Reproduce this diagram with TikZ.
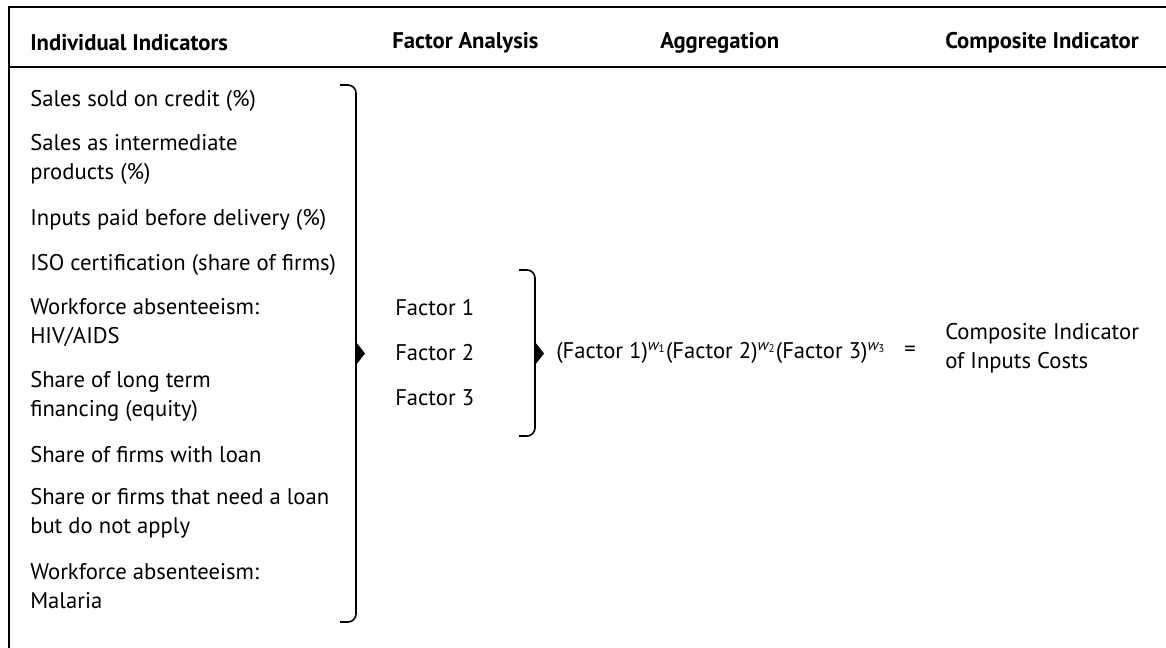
\documentclass[tikz,border=0pt]{standalone}
\usepackage{fontspec}
\setmainfont{PT Sans}
\usetikzlibrary{positioning}
\tikzset{frame/.style={draw, line width=1.1pt}}
\tikzset{header/.style={font=\fontsize{17}{20}\selectfont\bfseries, anchor=west, inner sep=0pt}}
\tikzset{indicator/.style={font=\fontsize{17}{21.75}\selectfont, align=left, anchor=west, inner sep=0pt}}
\tikzset{bracket/.style={draw, line width=1.2pt, rounded corners=6pt}}
\tikzset{tip/.style={fill=black}}
\newcommand{\wexp}[1]{\textsuperscript{\itshape w\textsubscript{\upshape #1}}}

\begin{document}
\begin{tikzpicture}[x=0.75pt, y=-0.75pt]
    \useasboundingbox (0,0) rectangle (1166,648);
    % frame
    \draw [frame] (1166,7) -- (9,7) -- (9,648);
    \draw [frame, line width=1.7pt] (9,67) -- (1166,67);

    % headers
    \node [header] (hind) at (30,43) {Individual Indicators};
    \node [header] (hfac) at (392,43) {Factor Analysis};
    \node [header] (hagg) at (660,43) {Aggregation};
    \node [header] (hcomp) at (945,43) {Composite Indicator};

    % individual indicators
    \node [indicator] (credit) at (30,100.5) {Sales sold on credit (\%)};
    \node [indicator] (interm) at (30,159.5) {Sales as intermediate\\products (\%)};
    \node [indicator] (inputs) at (30,220) {Inputs paid before delivery (\%)};
    \node [indicator] (iso) at (30,265) {ISO certification (share of firms)};
    \node [indicator] (hiv) at (30,323) {Workforce absenteeism:\\HIV/AIDS};
    \node [indicator] (equity) at (30,396) {Share of long term\\financing (equity)};
    \node [indicator] (loan) at (30,454.5) {Share of firms with loan};
    \node [indicator] (noapply) at (30,513) {Share or firms that need a loan\\but do not apply};
    \node [indicator] (malaria) at (30,586.5) {Workforce absenteeism:\\Malaria};

    % factors
    \node [indicator] (f1) at (395,308) {Factor 1};
    \node [indicator] (f2) at (395,353) {Factor 2};
    \node [indicator] (f3) at (395,398) {Factor 3};

    % aggregation and result
    \node [indicator] (formula) at (556,353) {(Factor 1)\wexp{1}(Factor 2)\wexp{2}(Factor 3)\wexp{3}};
    \node [indicator] (equals) at (904,351) {=};
    \node [indicator] (result) at (945,348) {Composite Indicator\\of Inputs Costs};

    % brackets
    \coordinate (btop) at (340,85);
    \coordinate (bbot) at (340,622);
    \coordinate (stop) at (519,270);
    \coordinate (sbot) at (519,436);
    \draw [bracket] (btop) -- ++(16,0) -- ++(0,537) -- (bbot);
    \draw [bracket] (stop) -- ++(16,0) -- ++(0,166) -- (sbot);
    \fill [tip] (356,342) -- (365,353.5) -- (356,365) -- cycle;
    \fill [tip] (535,342) -- (544,353.5) -- (535,365) -- cycle;
\end{tikzpicture}
\end{document}
